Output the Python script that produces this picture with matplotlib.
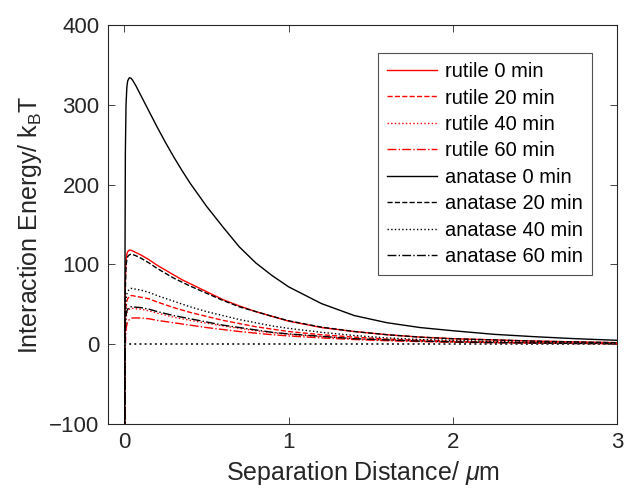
import matplotlib
matplotlib.use("Agg")
import matplotlib.pyplot as plt

plt.rcParams['font.family'] = ['Liberation Sans', 'DejaVu Sans']
plt.rcParams['mathtext.fontset'] = 'custom'
plt.rcParams['mathtext.it'] = 'Liberation Sans:italic'
plt.rcParams['mathtext.rm'] = 'Liberation Sans'

# separation distance (um), shared by every curve
sep_um = [0.0, 0.002, 0.004, 0.006, 0.01, 0.015, 0.02, 0.03, 0.04, 0.05, 0.07,
          0.1, 0.15, 0.2, 0.25, 0.3, 0.35, 0.4, 0.5, 0.6, 0.7, 0.8, 0.9, 1.0,
          1.2, 1.4, 1.6, 1.8, 2.0, 2.25, 2.5, 2.75, 3.0]

# interaction energy / kBT
rutile_0 = [-400, -150, 20, 80, 105, 113, 116, 118, 118, 117, 115,
            112, 106, 99, 93, 87, 81, 76, 66, 56, 48, 41, 35, 29,
            21, 16, 12, 9, 7, 5.5, 4, 3, 2]
rutile_20 = [-400, -180, -20, 28, 47, 54, 57, 60, 61, 61, 60,
             59, 57, 53, 49.5, 46, 43, 40, 35, 30, 26, 22, 19, 16,
             12, 9, 6.5, 5, 3.8, 2.8, 2, 1.4, 1]
rutile_40 = [-400, -200, -35, 16, 33, 39, 42, 44, 45, 45, 44.5,
             44, 42, 39, 36.5, 34, 32, 30, 26.5, 23, 20, 17, 14.5, 12.5,
             9.5, 7, 5, 4, 3, 2.2, 1.5, 1.1, 0.8]
rutile_60 = [-400, -220, -50, 0, 18, 25, 28, 31, 32.5, 33, 33,
             33, 32, 30, 28.5, 27, 25.5, 24, 21, 18.5, 16, 14, 12, 10.5,
             8, 6, 4.5, 3.4, 2.6, 1.9, 1.3, 1, 0.7]
anatase_0 = [-400, -100, 120, 240, 300, 322, 330, 334, 333.5, 331, 324,
             312, 292, 272, 253, 235, 218, 202, 173, 147, 122, 102, 86, 72,
             51, 36, 27, 21, 17, 12.5, 9.5, 7, 5]
anatase_20 = [-400, -150, 10, 70, 98, 106, 110, 112, 113, 112.5, 111,
              108, 102, 95, 89, 83, 78, 73, 64, 55, 47, 41, 35, 29.5,
              21.5, 16, 12, 9, 7, 5.5, 4, 3, 2]
anatase_40 = [-400, -180, -10, 35, 55, 63, 66, 69, 70, 70, 69,
              68, 65, 61, 57.5, 54, 50.5, 47, 41, 36, 31, 27, 23, 20,
              15, 11, 8, 6, 5, 3.5, 2.5, 1.8, 1.2]
anatase_60 = [-400, -200, -30, 20, 36, 42, 44, 46, 47, 47, 46.5,
              46, 44, 41, 38.5, 36, 34, 32, 28, 24, 21, 18, 15, 13,
              10, 7, 5.5, 4, 3, 2.2, 1.6, 1.1, 0.8]

labels = ['rutile 0 min', 'rutile 20 min', 'rutile 40 min', 'rutile 60 min',
          'anatase 0 min', 'anatase 20 min', 'anatase 40 min', 'anatase 60 min']

fig = plt.figure(figsize=(6.24, 4.92), dpi=100)
ax = fig.add_axes([0.173, 0.138, 0.816, 0.811])

series = [rutile_0, rutile_20, rutile_40, rutile_60,
          anatase_0, anatase_20, anatase_40, anatase_60]
styles = ['-', '--', ':', '-.']
for i, (ys, lab) in enumerate(zip(series, labels)):
    col = 'red' if i < 4 else 'black'
    ax.plot(sep_um, ys, color=col, ls=styles[i % 4], lw=1.0, label=lab)

# zero reference line
ax.plot([sep_um[0], sep_um[-1]], [0, 0], color='#333333', ls=':', lw=1.4)

ax.set_xlim(-0.1, 3)
ax.set_ylim(-100, 400)
ax.set_xticks([0, 1, 2, 3])
ax.set_yticks([-100, 0, 100, 200, 300, 400])
ax.tick_params(direction='in', length=5, width=0.6, labelsize=16,
               top=True, right=True, colors='#262626', pad=6)
for sp in ax.spines.values():
    sp.set_color('#262626')
    sp.set_linewidth(0.8)

ax.set_xlabel(r'Separation Distance/ $\mu$m', fontsize=18, color='#262626')
ax.set_ylabel(r'Interaction Energy/ k$_\mathrm{B}$T', fontsize=18, color='#262626')

leg = ax.legend(loc='upper right', bbox_to_anchor=(0.951, 0.930), fontsize=14.5,
                handlelength=2.5, fancybox=False, edgecolor='#262626',
                borderpad=0.45, labelspacing=0.37, handletextpad=0.4,
                borderaxespad=0)
leg.get_frame().set_linewidth(0.8)

fig.savefig('out.png', dpi=100)
